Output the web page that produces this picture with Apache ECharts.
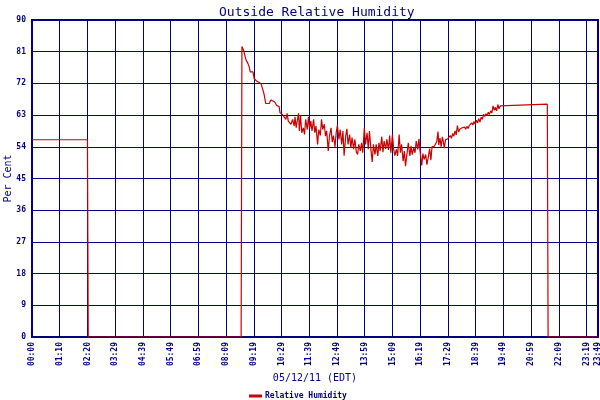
<!DOCTYPE html>
<html>
<head>
<meta charset="utf-8">
<script src="https://cdn.jsdelivr.net/npm/echarts@6/dist/echarts.min.js"></script>
<style>
  html, body { margin: 0; padding: 0; background: #fff; }
  #chart { width: 600px; height: 400px; }
</style>
</head>
<body>
<div id="chart"></div>
<script>
const NAVY = '#000080'
const RED = '#cc0000'
const FONT = '"DejaVu Sans Mono", monospace'

// x tick labels (every ~70 minutes), the last one is the axis end
const tickLabels = ['00:00', '01:10', '02:20', '03:29', '04:39', '05:49', '06:59', '08:09',
  '09:19', '10:29', '11:39', '12:49', '13:59', '15:09', '16:19', '17:29', '18:39',
  '19:49', '20:59', '22:09', '23:19']
const endLabel = '23:49'
const endMinute = 1429

// minutes since midnight of each reading
const minutes = [
  0, 140, 141, 142, 528, 529, 530,
  531, 534, 536, 540, 544, 548, 551, 558, 561, 567, 572, 578, 582, 586,
  590, 599, 603, 608, 613, 617, 624, 626, 632, 637, 641, 644, 647, 651,
  654, 658, 662, 664, 667, 670, 673, 675, 678, 681, 685, 688, 691, 695,
  698, 701, 704, 707, 711, 714, 717, 721, 724, 728, 731, 734, 738, 741,
  744, 748, 751, 755, 758, 761, 765, 768, 771, 775, 778, 782, 785, 788,
  792, 795, 798, 802, 805, 808, 812, 815, 819, 822, 825, 829, 832, 835,
  839, 842, 846, 849, 852, 856, 859, 862, 866, 869, 873, 876, 879, 883,
  886, 889, 893, 896, 900, 903, 906, 910, 913, 916, 920, 923, 927, 930,
  933, 937, 940, 943, 947, 950, 954, 957, 960, 964, 967, 970, 974, 977,
  980, 984, 987, 990, 994, 997, 1001,
  1004, 1007, 1010, 1013, 1016, 1019, 1022, 1025, 1027, 1030, 1033, 1036,
  1039, 1041, 1044, 1047, 1050, 1053, 1056, 1059, 1062, 1065, 1068, 1071,
  1074, 1077, 1080, 1083, 1086, 1089, 1092, 1095, 1098, 1101, 1104, 1107,
  1110, 1113, 1116, 1119, 1122, 1125, 1128, 1131, 1134, 1137, 1140, 1143,
  1146, 1149, 1152, 1155, 1158, 1161, 1164, 1167, 1170, 1173, 1176, 1179,
  1182, 1185, 1301, 1302, 1303, 1429
]

// relative humidity, per cent
const humidity = [
  56, 56, 28, 0, 0, 41, 82.5,
  82.1, 81.5, 81.2, 78.8, 77.9, 76.9, 75.3, 75.3, 73.3, 72.7, 72.9, 72.0, 70.5, 68.9,
  66.3, 66.3, 67.3, 67.5, 66.7, 65.8, 65.4, 63.7, 63.2, 63.2, 61.8, 63.5, 61.3, 61.3,
  60.4, 61.8, 59.9, 62.5, 59.4, 61.6, 63.5, 58.5, 62.9, 58.0, 59.4, 57.5, 61.8, 58.9,
  62.5, 59.1, 61.3, 58.5, 61.8, 58.0, 59.9, 54.7, 58.9, 57.2, 61.8, 58.9, 60.4, 57.0,
  58.5, 52.8, 57.0, 59.4, 55.3, 57.2, 54.0, 58.0, 60.1, 56.1, 58.9, 54.7, 58.5, 51.5,
  57.0, 59.1, 54.7, 57.5, 53.7, 56.6, 53.3, 56.1, 52.5, 51.8, 54.7, 52.8, 55.1, 52.3,
  59.4, 54.7, 58.0, 53.3, 58.5, 52.8, 49.7, 54.7, 51.8, 54.7, 51.4, 55.1, 52.8, 56.9,
  52.5, 55.6, 53.4, 56.1, 53.1, 57.2, 52.3, 57.5, 53.4, 51.5, 53.3, 51.4, 57.5, 52.3,
  54.7, 49.9, 52.8, 48.5, 52.3, 55.1, 51.4, 54.2, 51.8, 53.7, 52.3, 55.6, 53.3, 56.3,
  52.5, 48.7, 52.1, 50.4, 51.8, 48.9, 51.4,
  53.5, 50.2, 54.0, 53.8, 54.2, 54.0, 55.5, 58.3, 54.5, 56.5, 54.0, 56.8,
  55.2, 53.6, 56.0, 55.6, 56.3, 55.8, 57.2, 56.4, 57.8, 57.0, 58.5, 57.4,
  60.0, 58.2, 59.0, 58.6, 59.4, 58.9, 59.6, 59.0, 59.8, 59.2, 60.0, 59.5,
  60.8, 60.2, 61.2, 60.4, 61.5, 60.8, 62.0, 61.0, 62.4, 61.8, 63.2, 62.6,
  63.4, 62.8, 63.8, 63.2, 64.2, 63.6, 65.6, 64.4, 65.2, 64.2, 66.0, 64.8,
  65.6, 66.1, 66.1, 33.5, 0, 0
]

const seriesData = minutes.map((m, i) => [m, humidity[i]])

const chart = echarts.init(document.getElementById('chart'), null, { renderer: 'canvas' })

chart.setOption({
  backgroundColor: '#ffffff',
  animation: false,
  title: {
    text: 'Outside Relative Humidity',
    left: 214,
    top: 1,
    textStyle: { color: NAVY, fontFamily: FONT, fontSize: 13, fontWeight: 'normal' }
  },
  legend: {
    left: 249,
    top: 392,
    padding: 0,
    icon: 'rect',
    itemWidth: 13,
    itemHeight: 3,
    textStyle: { color: NAVY, fontFamily: FONT, fontSize: 8, fontWeight: 'bold', padding: [0, 0, 0, -2] },
    data: ['Relative Humidity']
  },
  grid: {
    left: 32,
    right: 2,
    top: 20,
    bottom: 63,
    containLabel: false,
    outerBoundsMode: 'none',
    show: true,
    borderColor: NAVY,
    borderWidth: 2
  },
  xAxis: {
    type: 'value',
    min: 0,
    max: endMinute,
    interval: 70,
    name: '05/12/11 (EDT)',
    nameLocation: 'middle',
    nameGap: 36,
    nameMoveOverlap: false,
    nameTextStyle: { color: NAVY, fontFamily: FONT, fontSize: 10 },
    axisLine: { show: true, lineStyle: { color: NAVY, width: 2 } },
    axisTick: { show: false },
    axisLabel: {
      rotate: 90,
      margin: 5,
      color: NAVY,
      fontFamily: FONT,
      fontSize: 8,
      fontWeight: 'bold',
      showMaxLabel: true,
      formatter: (v) => v >= endMinute ? endLabel : tickLabels[Math.round(v / 70)]
    },
    splitLine: { show: true, lineStyle: { color: NAVY, width: 1 } }
  },
  yAxis: {
    type: 'value',
    min: 0,
    max: 90,
    interval: 9,
    name: 'Per Cent',
    nameLocation: 'middle',
    nameGap: 19,
    nameMoveOverlap: false,
    nameTextStyle: { color: NAVY, fontFamily: FONT, fontSize: 10 },
    axisLine: { show: true, lineStyle: { color: NAVY, width: 2 } },
    axisTick: { show: false },
    axisLabel: { margin: 6, color: NAVY, fontFamily: FONT, fontSize: 8, fontWeight: 'bold' },
    splitLine: { show: true, lineStyle: { color: NAVY, width: 1 } }
  },
  series: [{
    name: 'Relative Humidity',
    type: 'line',
    showSymbol: false,
    color: RED,
    lineStyle: { color: RED, width: 1.2 },
    data: seriesData
  }]
})
</script>
</body>
</html>
